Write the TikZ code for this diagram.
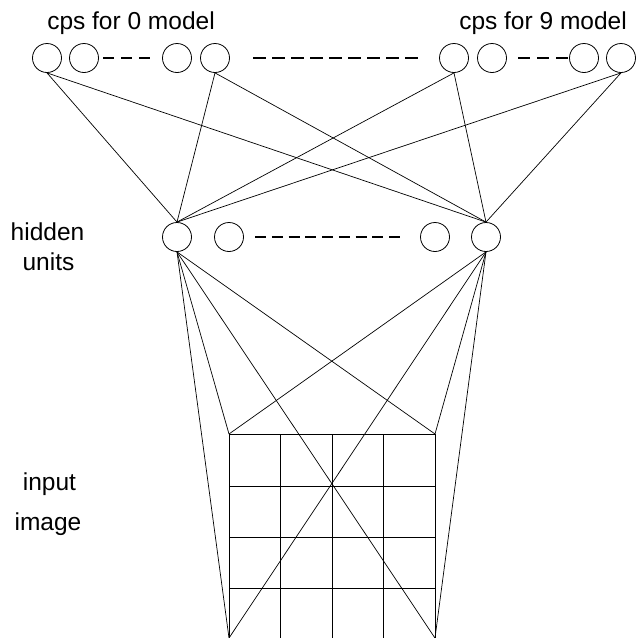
\documentclass[tikz,border=0pt]{standalone}
\usepackage{fontspec}
\setmainfont{Liberation Sans}
\begin{document}
\begin{tikzpicture}[x=1pt,y=-1pt,
  unit/.style={circle, draw, line width=0.8pt, minimum size=29pt, inner sep=0pt},
  conn/.style={line width=0.7pt},
  gridline/.style={line width=0.9pt},
  dots/.style={line width=2.6pt},
  lbl/.style={font=\fontsize{24.5}{28}\selectfont, anchor=base, inner sep=0pt}]
\useasboundingbox (0,0) rectangle (638,638);
% labels
\node[lbl] (l0) at (131,29) {cps for 0 model};
\node[lbl] (l9) at (543,29) {cps for 9 model};
\node[lbl] (lh1) at (47.5,240) {hidden};
\node[lbl] (lh2) at (48.5,270) {units};
\node[lbl] (li1) at (49.5,490) {input};
\node[lbl] (li2) at (48,530) {image};
% top units
\node[unit] (c1) at (47,58) {};
\node[unit] (c2) at (84,58) {};
\node[unit] (c3) at (177,58) {};
\node[unit] (c4) at (215,58) {};
\node[unit] (c5) at (454,58) {};
\node[unit] (c6) at (492,58) {};
\node[unit] (c7) at (584,58) {};
\node[unit] (c8) at (621,58) {};
% hidden units
\node[unit] (h1) at (177,237) {};
\node[unit] (h2) at (229,237) {};
\node[unit] (h3) at (435,237) {};
\node[unit] (h4) at (486,237) {};
% dash coordinates
\coordinate (d1a) at (103,58); \coordinate (d1b) at (150,58);
\coordinate (d2a) at (253,58); \coordinate (d2b) at (418,58);
\coordinate (d3a) at (518,58); \coordinate (d3b) at (568,58);
\coordinate (d4a) at (255,237); \coordinate (d4b) at (400,237);
\draw[dots, dash pattern=on 11pt off 7pt] (d1a) -- (d1b);
\draw[dots, dash pattern=on 12.5pt off 6.5pt] (d2a) -- (d2b);
\draw[dots, dash pattern=on 12pt off 7pt] (d3a) -- (d3b);
\draw[line width=2.4pt, dash pattern=on 11pt off 5.75pt] (d4a) -- (d4b);
% grid
\coordinate (tl) at (229,434);
\coordinate (tr) at (435,434);
\coordinate (bl) at (229,638);
\coordinate (br) at (435,638);
\foreach \yy in {434,486,537,588} \draw[gridline] (229,\yy) -- (435,\yy);
\foreach \xx in {229,280.5,332,383.5,435} \draw[gridline] (\xx,434) -- (\xx,638);
% top connections
\foreach \c in {c1,c4,c5,c8} {
  \draw[conn] (\c.south) -- (h1.north);
  \draw[conn] (\c.south) -- (h4.north);
}
% bottom connections
\foreach \h in {h1,h4} {
  \foreach \p in {tl,tr,bl,br} \draw[conn] (\h.south) -- (\p);
}
\end{tikzpicture}
\end{document}
